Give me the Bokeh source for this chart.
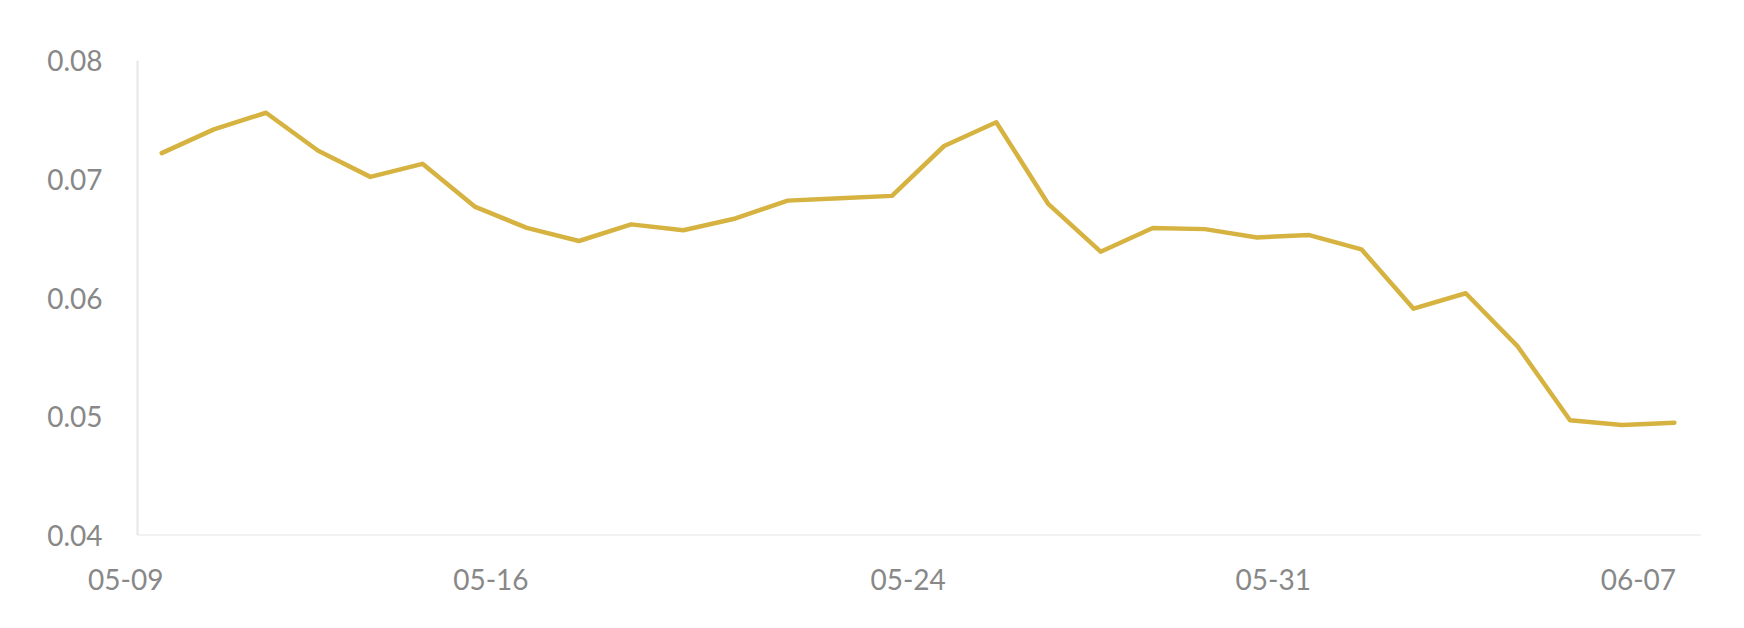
from bokeh.plotting import figure
from bokeh.models import Range1d, FixedTicker, ColumnDataSource, LinearAxis
from bokeh.embed import file_html
from bokeh.resources import INLINE

# ---- data ----
dates = ["05-09", "05-10", "05-11", "05-12", "05-13", "05-14", "05-15", "05-16",
         "05-17", "05-18", "05-19", "05-20", "05-21", "05-22", "05-23", "05-24",
         "05-25", "05-26", "05-27", "05-28", "05-29", "05-30", "05-31", "06-01",
         "06-02", "06-03", "06-04", "06-05", "06-06", "06-07"]
values = [0.0722, 0.0742, 0.0756, 0.0724, 0.0702, 0.0713, 0.0677, 0.0659,
          0.0648, 0.0662, 0.0657, 0.0667, 0.0682, 0.0684, 0.0686, 0.0728,
          0.0748, 0.0679, 0.0639, 0.0659, 0.0658, 0.0651, 0.0653, 0.0641,
          0.0591, 0.0604, 0.0559, 0.0497, 0.0493, 0.0495]
x_tick_labels = ["05-09", "05-16", "05-24", "05-31", "06-07"]
y_ticks = [0.04, 0.05, 0.06, 0.07, 0.08]
y_tick_labels = ["0.04", "0.05", "0.06", "0.07", "0.08"]

LINE_COLOR = "#d6b340"
TEXT_COLOR = "#888888"
AXIS_COLOR = "#e6e6e6"
FONT = "Lato"

# plot area in day-index units (axis lines span AX0..AX1, frame a bit wider
# on the left so that the date labels can end at their dates)
AX0, AX1 = -0.46, len(dates) - 1 + 0.52
FR0 = -0.79
LABEL_SHIFT = 0.69  # labels are drawn so that they end at their date

idx = list(range(len(dates)))
src = ColumnDataSource(data=dict(x=idx, y=values, d=dates))

p = figure(width=1736, height=620, output_backend="svg", toolbar_location=None,
           x_range=Range1d(FR0, AX1),
           y_range=Range1d(y_ticks[0], y_ticks[-1]),
           x_axis_location=None, y_axis_location=None,
           min_border_left=120, min_border_right=35,
           min_border_top=60, min_border_bottom=85)
p.outline_line_color = None
p.background_fill_color = "white"
p.border_fill_color = "white"
p.xgrid.visible = False
p.ygrid.visible = False

p.line("x", "y", source=src, line_color=LINE_COLOR, line_width=4.5,
       line_join="round", line_cap="round")

# y labels axis (at the frame edge, line hidden)
yax = LinearAxis(ticker=FixedTicker(ticks=y_ticks),
                 major_label_overrides={t: l for t, l in zip(y_ticks, y_tick_labels)})
yax.axis_line_color = None
yax.major_tick_line_color = None
yax.minor_tick_line_color = None
yax.major_label_text_font = FONT
yax.major_label_text_font_size = "28px"
yax.major_label_text_color = TEXT_COLOR
yax.major_label_standoff = 12
p.add_layout(yax, "left")

# y axis line, placed at the start of the data area
yline = LinearAxis(fixed_location=AX0, ticker=FixedTicker(ticks=[]))
yline.axis_line_color = AXIS_COLOR
yline.axis_line_width = 2
yline.major_tick_line_color = None
yline.minor_tick_line_color = None
yline.major_label_text_font_size = "0px"
p.add_layout(yline, "left")

# x labels axis (shifted range so labels end at their date)
p.extra_x_ranges = {"lab": Range1d(FR0 + LABEL_SHIFT, AX1 + LABEL_SHIFT)}
x_pos = [dates.index(l) for l in x_tick_labels]
xlab = LinearAxis(x_range_name="lab", ticker=FixedTicker(ticks=x_pos),
                  major_label_overrides={i: l for i, l in zip(x_pos, x_tick_labels)})
xlab.axis_line_color = None
xlab.major_tick_line_color = None
xlab.minor_tick_line_color = None
xlab.major_label_text_font = FONT
xlab.major_label_text_font_size = "28px"
xlab.major_label_text_color = TEXT_COLOR
xlab.major_label_standoff = 27
p.add_layout(xlab, "below")

# x base line
xline = LinearAxis(fixed_location=y_ticks[0], bounds=(AX0, AX1),
                   ticker=FixedTicker(ticks=[]))
xline.axis_line_color = AXIS_COLOR
xline.axis_line_width = 2
xline.major_tick_line_color = None
xline.minor_tick_line_color = None
xline.major_label_text_font_size = "0px"
p.add_layout(xline, "below")

open("out.html", "w").write(file_html(p, INLINE))
